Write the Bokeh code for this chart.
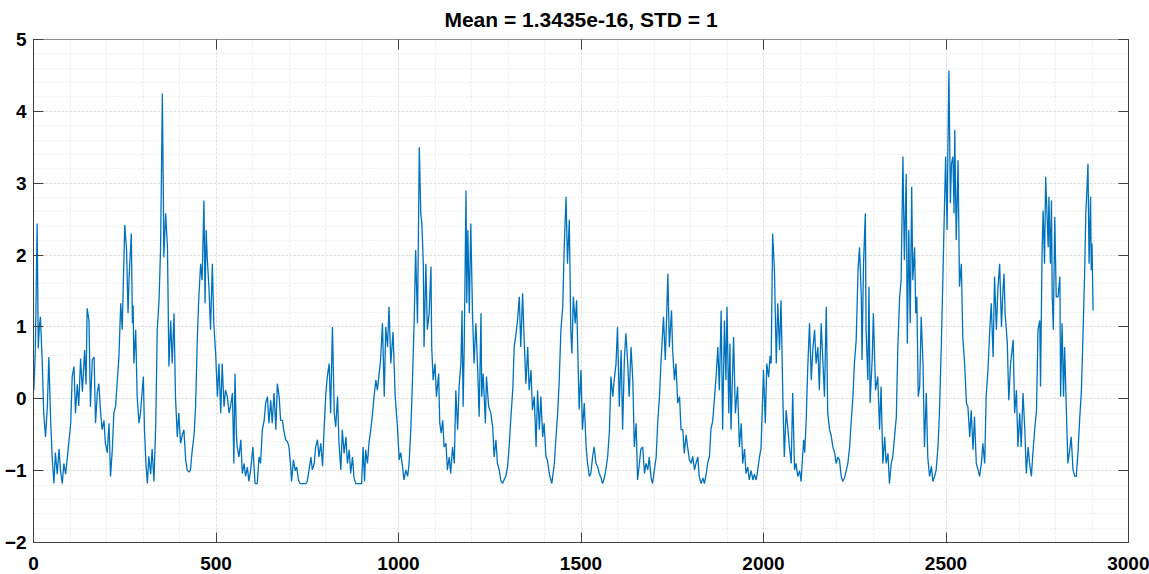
from bokeh.plotting import figure
from bokeh.models import SingleIntervalTicker, LinearAxis, Range1d
from bokeh.embed import file_html
from bokeh.resources import INLINE

title_text = "Mean = 1.3435e-16, STD = 1"

# sample index
sample = [
    1, 5, 10, 13, 16, 19, 24, 28, 33, 38, 42, 47, 51, 56, 60, 65, 70, 74, 79, 83, 88, 92, 97,
    102, 106, 111, 115, 120, 124, 129, 134, 140, 144, 147, 152, 156, 161, 166, 170, 175, 179,
    184, 188, 193, 197, 202, 207, 211, 216, 220, 225, 229, 234, 239, 243, 250, 255, 259, 262,
    268, 271, 273, 275, 280, 284, 289, 293, 301, 304, 308, 312, 316, 321, 325, 330, 335, 339,
    344, 348, 350, 353, 356, 357,
    362, 367, 371, 376, 380, 385, 389, 394, 398, 403, 408, 412, 417, 421, 426, 430, 435, 440,
    444, 449, 453, 458, 462, 467, 470, 473, 476, 481, 485, 490, 494, 499, 504, 508, 513, 517,
    522, 526, 531, 536, 540, 545, 549, 552, 556, 558, 563, 568, 572, 577, 581, 586, 590, 595,
    601, 607, 613, 618, 622, 627, 632, 636, 641, 645, 650, 654, 659, 664, 668, 673, 677, 682,
    686, 691, 696, 700, 704, 707, 712, 717, 721, 726, 730, 737, 746, 750,
    755, 760, 764, 769, 773, 778, 782, 787, 792, 796, 801, 805, 810, 814, 819, 824, 828, 833,
    837, 842, 846, 851, 856, 860, 865, 869, 874, 878, 883, 892, 899, 903, 907, 910, 915, 919,
    924, 929, 933, 938, 942, 947, 951, 956, 961, 965, 970, 974, 979, 985, 991, 997, 1002, 1006,
    1011, 1015, 1020, 1025, 1029, 1034, 1038, 1043, 1047, 1052, 1057, 1061, 1064, 1068, 1070,
    1075, 1079, 1084, 1089, 1091, 1095, 1100, 1104, 1110, 1113, 1117, 1121, 1125, 1130,
    1134, 1139, 1143, 1148, 1153, 1157, 1162, 1166, 1171, 1174, 1177, 1180, 1185, 1187, 1190,
    1194, 1198, 1203, 1207, 1212, 1217, 1221, 1226, 1228, 1232, 1238, 1241, 1247, 1253, 1258,
    1262, 1267, 1271, 1276, 1280, 1285, 1290, 1294, 1299, 1303, 1308, 1313, 1317, 1322, 1326,
    1331, 1335, 1340, 1344, 1349, 1354, 1358, 1363, 1367, 1372, 1377, 1381, 1386, 1390, 1395,
    1399, 1404, 1408, 1413, 1420, 1427, 1431, 1436, 1440, 1445, 1450, 1454, 1459, 1463, 1468,
    1472, 1475, 1479, 1484, 1488, 1491, 1495, 1500, 1504, 1509, 1514, 1518, 1523,
    1527, 1532, 1536, 1541, 1546, 1550, 1555, 1559, 1564, 1568, 1573, 1578, 1582, 1587, 1591,
    1596, 1600, 1605, 1610, 1614, 1619, 1623, 1628, 1632, 1637, 1642, 1646, 1651, 1655, 1660,
    1664, 1669, 1674, 1678, 1683, 1687, 1692, 1696, 1701, 1706, 1710, 1715, 1719, 1726, 1731,
    1738, 1742, 1748, 1751, 1756, 1760, 1765, 1770, 1774, 1779, 1783, 1788, 1792, 1797, 1802,
    1806, 1811, 1815, 1820, 1824, 1829, 1834, 1838, 1843, 1847, 1852, 1856, 1861, 1866, 1870,
    1875, 1879, 1884, 1888, 1893, 1897, 1900, 1905, 1908,
    1911, 1918, 1923, 1929, 1934, 1939, 1943, 1948, 1952, 1957, 1961, 1966, 1971, 1975, 1980,
    1984, 1989, 1993, 1996, 2000, 2005, 2009, 2014, 2018, 2021, 2025, 2030, 2035, 2039, 2044,
    2048, 2053, 2057, 2062, 2067, 2071, 2076, 2080, 2085, 2089, 2094, 2099, 2103, 2106, 2110,
    2113, 2117, 2121, 2126, 2131, 2135, 2140, 2144, 2149, 2153, 2158, 2163, 2167, 2172, 2176,
    2181, 2185, 2190, 2195, 2199, 2204, 2208, 2213, 2217, 2222, 2227, 2231, 2236, 2240, 2245,
    2249, 2254, 2259, 2263, 2268, 2270, 2274, 2279, 2281,
    2286, 2289, 2292, 2298, 2301, 2307, 2313, 2318, 2322, 2327, 2332, 2336, 2341, 2345, 2350,
    2354, 2359, 2364, 2368, 2373, 2377, 2382, 2386, 2391, 2394, 2398, 2402, 2406, 2409, 2414,
    2417, 2420, 2424, 2428, 2432, 2437, 2441, 2446, 2450, 2455, 2460, 2464, 2469, 2473, 2478,
    2482, 2487, 2492, 2496, 2499, 2503, 2505, 2508, 2512, 2515, 2519, 2522, 2524, 2528, 2533,
    2537, 2542, 2546, 2551, 2556, 2560, 2565, 2569, 2574, 2578, 2583, 2588, 2592, 2597, 2601,
    2606, 2610, 2615, 2620, 2624, 2629, 2633, 2638, 2642, 2647, 2652, 2656,
    2659, 2662, 2668, 2672, 2677, 2684, 2688, 2693, 2697, 2702, 2706, 2711, 2716, 2720, 2725,
    2729, 2734, 2738, 2743, 2748, 2752, 2757, 2759, 2763, 2766, 2770, 2773, 2777, 2780, 2782,
    2786, 2789, 2791, 2794, 2798, 2802, 2807, 2812, 2814, 2818, 2822, 2825, 2830, 2834, 2839,
    2843, 2848, 2853, 2857, 2862, 2866, 2871, 2875, 2880, 2883, 2886, 2889, 2892, 2896, 2898,
    2900, 2903,
]

# standardized value
value = [
    0.12, 0.68, 2.44, 0.7, 1.0, 1.14, 0.5, -0.2, -0.53, -0.1, 0.58, -0.3, -0.8, -1.18, -0.75,
    -1.05, -0.7, -1.0, -1.18, -0.9, -1.05, -0.85, -0.6,
    -0.34, 0.31, 0.45, -0.2, 0.2, -0.1, 0.56, 0.1, 0.68, 0.2, 1.26, 1.09, -0.11, 0.54, 0.58,
    -0.34, 0.1, 0.21,
    -0.2, -0.43, -0.3, -0.62, -0.75, -0.34, -1.08, -0.7, -0.2, -0.1, 0.21, 0.58, 1.33, 0.96,
    2.42, 2.07, 1.19, 1.7,
    2.3, 1.05, 1.3, 0.49, 0.96, 0.03, -0.34, -0.2, 0.31, -0.43, -0.9, -1.18, -0.8, -1.05, -0.7,
    -1.15, -0.34, 0.96,
    1.37, 2.07, 2.86, 4.25, 2.72, 1.97,
    2.58, 2.11, 0.45, 1.09, 0.49, 1.19, 0.03, -0.53, -0.2, -0.62, -0.5, -0.43, -0.85, -0.99,
    -1.02, -0.99, -0.71, -0.5,
    -0.11, 0.86, 1.42, 1.88, 1.65, 2.76, 1.33, 2.35, 1.97, 1.51, 0.96, 1.88, 1.05, 0.63, 0.03,
    0.49, -0.2, 0.49,
    -0.11, 0.12, 0.03, -0.2, -0.1, 0.08, -0.9, 0.35, -0.5, -0.67, -0.81, -0.57, -1.04, -0.9,
    -1.08, -0.95, -1.15, -0.99,
    -0.67, -1.18, -1.18, -0.81, -0.9, -0.43, -0.3, -0.06, 0.03, -0.34, -0.02, -0.34, 0.08,
    -0.43, 0.21, 0.03, -0.3, -0.3,
    -0.45, -0.57, -0.6, -0.67, -0.9, -1.15, -0.85, -1.0, -0.95, -1.13, -1.18, -1.18, -1.18, -1.15,
    -0.99, -0.81, -0.99, -0.9, -0.67, -0.57, -0.81, -0.62, -0.94, -0.43, 0.08, 0.31, 0.49, -0.2,
    1.0, -0.2, -0.39, 0.03,
    -0.62, -0.99, -0.43, -0.76, -0.53, -0.9, -0.71, -1.04, -0.81, -1.1, -1.18, -1.18, -1.18,
    -0.67, -1.15, -0.71, -0.9, -0.62,
    -0.43, -0.2, 0.03, 0.26, 0.12, 0.35, 0.54, 1.05, 0.03, 1.0, 0.72, 1.28, 0.49, 0.93, 0.03,
    -0.39, -0.85, -0.75,
    -0.94, -1.13, -0.99, -1.08, -0.9, -0.39, 0.21, 1.09, 2.07, 1.05, 3.5, 2.58, 2.44, 1.88, 0.72,
    1.88, 0.96, 1.19, 1.84, 0.72, 0.26, 0.49, 0.03, 0.35, -0.34, -0.48, -0.3, -0.67, -0.62,
    -0.99, -0.81, -1.04, -0.67, -0.9, 0.12, -0.43, 0.17, 0.49, 1.23, -0.11, 0.72, 2.9, 1.33, 2.35,
    1.19, 2.44, 1.14, 0.49, 1.05, 0.4, -0.25, 1.19, 0.03, 0.35, -0.34, 0.31, -0.11, -0.2, -0.39,
    -0.81, -0.57, -0.9, -0.99, -1.13, -1.18, -1.12, -1.08, -0.94, -0.67, -0.25, 0.12, 0.72, 0.91,
    1.09,
    1.42, 0.72, 1.47, 0.86, 0.21, 0.72, 0.12, 0.4, -0.16, 0.03, -0.67, 0.12, -0.43, 0.03, -0.53,
    -0.34, -0.81, -0.85, -1.04, -1.18, -0.9, -0.57, -0.2, 0.21, 0.96, 1.28, 2.11, 2.81, 1.88,
    2.49,
    0.96, 0.63, 1.42, 1.05, 1.37, 0.72, -0.15, 0.4, -0.43, -0.06, -0.67, -0.9, -1.08,
    -1.04, -0.8, -0.67, -0.9, -0.95, -1.04, -1.1, -1.18, -1.1, -0.99, -0.81, -0.43, 0.31, 0.03,
    0.26,
    0.49, 1.0, -0.11, 0.68, -0.43, 0.58, 0.91, 0.49, 0.03, 0.72, 0.26, -0.67, -0.34, -1.13, -0.9,
    -0.7, -0.67, -1.04, -0.9, -0.99, -0.81, -1.1, -1.18, -0.99, -0.81, -0.34, 0.03, 0.49, 1.14,
    0.54,
    1.74, 0.72, 1.23, 0.68, 0.26, 0.49, -0.06, 0.03, -0.43, -0.43, -0.76, -0.5, -0.67, -0.85,
    -0.9,
    -0.8, -0.99, -0.9, -0.81, -1.08, -1.18, -1.1, -1.18, -1.05, -0.9, -0.8, -0.43, -0.3, 0.03,
    0.3,
    0.72, 0.12, 1.23, -0.43, 1.09, 0.26, 1.28, -0.2, 0.77,
    -0.43, 0.86, -0.2, 0.17, -0.67, -0.34, -0.9, -0.7, -1.04, -0.95, -1.13, -1.0, -1.13, -1.05,
    -1.13,
    -1.0, -0.81, -0.7, -0.25, 0.4, -0.34, 0.49, 0.3, 0.6, 0.49, 2.3, 1.79, 0.49, 1.33, 0.68,
    1.37, 0.03, -0.81, -0.16, -0.43, -0.67, -0.9, 0.08, -0.99, -0.9, -1.08, -1.0, -1.15, -0.9,
    -0.57,
    -0.75, -0.3, 0.4, 1.05, 0.26, 0.68, 0.96, 0.49, 0.72, 0.12, 1.05, 0.49, 0.03, 1.28, -0.2,
    -0.43, -0.5, -0.67, -0.75, -0.9, -0.81, -0.85, -1.08, -1.15, -1.1, -0.99, -0.9, -0.67, -0.34,
    0.03,
    0.49, 0.82, 1.79, 2.11, 1.42, 0.54, 1.88, 2.58, 0.96,
    0.26, 1.56, -0.06, 0.58, 1.19, 0.12, 0.31, -0.43, 0.17, -0.9, -0.53, -0.9, -0.76, -1.18, -0.9,
    -0.81, -0.53, -0.25, 0.72, 1.42, 1.65, 3.37, 1.93, 3.13, 0.77, 2.35, 1.05, 2.95, 1.65, 2.11,
    1.19, 1.42, 0.03, 0.17, 1.14, 0.49, -0.67, 0.08, -0.81, -1.08, -0.94, -1.15, -1.08, -0.99,
    -0.67,
    -0.2, 0.72, 1.79, 2.72, 3.37, 2.35, 3.37, 4.57, 2.72, 3.27, 3.37, 2.58, 3.74, 2.21, 3.32,
    1.56, 1.88, 0.86, 0.49, -0.06, -0.11, -0.53, -0.16, -0.71, -0.25, -0.9, -0.99, -1.08, -0.9,
    -0.62,
    -0.9, 0.03, 0.4, 0.96, 1.33, 0.58, 1.7, 0.96, 1.51, 1.88, 1.0, 1.51,
    1.74, 1.19, 0.77, -0.02, 0.49, 0.82, -0.2, 0.12, -0.67, -0.2, -0.67, 0.08, -0.43, -1.04,
    -0.67,
    -0.9, -1.08, -0.76, -0.43, -0.16, 0.96, 1.09, 0.17, 1.97, 2.62, 1.88, 3.09, 2.53, 2.11, 2.81,
    1.88, 2.76, 1.42, 0.96, 2.53, 1.42, 1.42, 1.7, 0.03, 1.05, 0.03, 0.72, -0.2, -0.9, -0.71,
    -0.53, -0.99, -1.08, -1.08, -0.71, -0.3, 0.12, 0.82, 1.79, 2.58, 2.9, 3.27, 1.88, 2.81, 1.79,
    2.16, 1.23,
]

x_ticks = [0, 500, 1000, 1500, 2000, 2500, 3000]
y_ticks = [-2, -1, 0, 1, 2, 3, 4, 5]

FONT = "Liberation Sans"

p = figure(width=1149, height=574, output_backend="svg", toolbar_location=None,
           x_range=Range1d(0, 3000), y_range=Range1d(-2, 5),
           min_border_left=33, min_border_right=21, min_border_top=39,
           min_border_bottom=32, title=title_text)

p.title.align = "center"
p.title.text_font = FONT
p.title.text_font_style = "bold"
p.title.text_font_size = "21px"
p.title.text_color = "#000000"

p.line(sample, value, line_color="#0072BD", line_width=1.3)

xt = SingleIntervalTicker(interval=500, num_minor_ticks=5)
yt = SingleIntervalTicker(interval=1, num_minor_ticks=5)
p.xaxis.ticker = xt
p.yaxis.ticker = yt
p.xgrid.ticker = xt
p.ygrid.ticker = yt

for g in (p.xgrid, p.ygrid):
    g.grid_line_color = "#dadada"
    g.grid_line_dash = "2 2"
    g.grid_line_width = 1
    g.minor_grid_line_color = "#e8e8e8"
    g.minor_grid_line_dash = "2 2"
    g.minor_grid_line_width = 1

def style_axis(ax):
    ax.axis_line_color = "#404040"
    ax.axis_line_width = 1
    ax.major_tick_line_color = "#404040"
    ax.major_tick_in = 10
    ax.major_tick_out = 0
    ax.minor_tick_line_color = None
    ax.major_label_text_font = FONT
    ax.major_label_text_font_style = "bold"
    ax.major_label_text_color = "#000000"
    ax.major_label_text_font_size = "19px"

style_axis(p.xaxis[0])
style_axis(p.yaxis[0])
p.xaxis[0].major_label_standoff = 10
p.yaxis[0].major_label_standoff = 3

# box axes (top / right) with ticks only
top = LinearAxis(ticker=xt, major_label_overrides={t: "" for t in x_ticks})
right = LinearAxis(ticker=yt, major_label_overrides={t: "" for t in y_ticks})
for ax in (top, right):
    style_axis(ax)
    ax.major_label_standoff = 0
top.axis_line_color = "#909090"
p.add_layout(top, "above")
p.add_layout(right, "right")

p.outline_line_color = "#404040"
p.background_fill_color = "white"
p.border_fill_color = "white"

open("out.html", "w").write(file_html(p, INLINE))
